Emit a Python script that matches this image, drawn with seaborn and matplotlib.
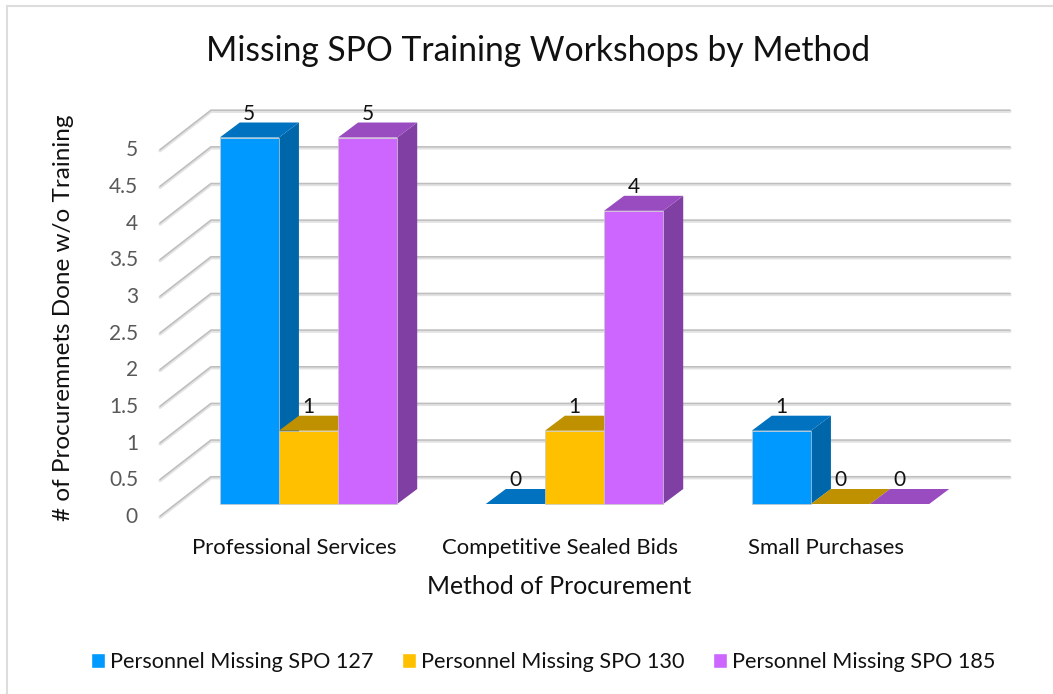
import matplotlib
matplotlib.use("Agg")
import matplotlib.pyplot as plt
from matplotlib.lines import Line2D
from matplotlib.patches import Polygon
from matplotlib.transforms import Affine2D
import pandas as pd
import seaborn as sns

categories = ["Professional Services", "Competitive Sealed Bids", "Small Purchases"]
spo_127 = [5, 0, 1]
spo_130 = [1, 1, 0]
spo_185 = [5, 4, 0]
series_names = ["Personnel Missing SPO 127", "Personnel Missing SPO 130", "Personnel Missing SPO 185"]
front_colors = ["#0099FF", "#FFC000", "#CC66FF"]
top_colors = ["#0072BF", "#BF9000", "#994CBF"]
side_colors = ["#0066AA", "#AA8000", "#7F3FA3"]
y_ticks = [0, 0.5, 1, 1.5, 2, 2.5, 3, 3.5, 4, 4.5, 5]
y_tick_labels = ["0", "0.5", "1", "1.5", "2", "2.5", "3", "3.5", "4", "4.5", "5"]

W, H = 1053, 694
sns.set_theme(style="white")
plt.rcParams["font.family"] = ["Lato", "DejaVu Sans"]
fig = plt.figure(figsize=(W / 100, H / 100), dpi=100, facecolor="white")
AX_L, AX_R, AX_B, AX_T = 175.5, 973.5, 504, 137.5
ax = fig.add_axes([AX_L / W, 1 - AX_B / H, (AX_R - AX_L) / W, (AX_B - AX_T) / H])
ax.patch.set_alpha(0)

df = pd.DataFrame({
    "Method": categories * 3,
    "Count": spo_127 + spo_130 + spo_185,
    "Series": [n for n in series_names for _ in categories],
})
sns.barplot(data=df, x="Method", y="Count", hue="Series", hue_order=series_names,
            order=categories, palette=front_colors, width=0.667, gap=0, saturation=1,
            errorbar=None, ax=ax)
ax.set_xlim(-0.5, 2.5)
ax.set_ylim(0, 5)
for s in ax.spines.values():
    s.set_visible(False)

sx = 3 / (AX_R - AX_L)      # data units per pixel
sy = 5 / (AX_B - AX_T)

# walls and floor grid
wall_x0 = -0.5 + (160 - AX_L) * sx
wall_x1 = -0.5 + (211 - AX_L) * sx
wall_x2 = -0.5 + (1010 - AX_L) * sx
for v in y_ticks:
    yf = v - 12.5 * sy
    yb = v + 27 * sy
    for lw, col, off in [(3.2, "#E2E2E2", -0.8), (1.5, "#BEBEBE", 0.3)]:
        ax.plot([wall_x0, wall_x1, wall_x2], [yf + off * sy, yb + off * sy, yb + off * sy],
                color=col, lw=lw * 0.72, clip_on=False, zorder=1, solid_joinstyle="miter")

# 3D faces derived from each bar
DX, DY = 20 * sx, 15 * sy
for i, cont in enumerate(ax.containers):
    for p in cont.patches:
        x, w, h = p.get_x(), p.get_width(), p.get_height()
        r = x + w
        z = 3 + 3 * i
        ax.add_patch(Polygon([(r, 0), (r + DX, DY), (r + DX, h + DY), (r, h)],
                             closed=True, fc=side_colors[i], ec="none", clip_on=False, zorder=z))
        ax.add_patch(Polygon([(x, h), (x + DX, h + DY), (r + DX, h + DY), (r, h)],
                             closed=True, fc=top_colors[i], ec="none", clip_on=False, zorder=z + 1))
        p.set_zorder(z + 2)
        p.set_clip_on(False)
        p.set_edgecolor("#C8C8C8")
        p.set_linewidth(0.5 if h > 0 else 0)
        ax.annotate(f"{h:g}", (x + w / 2, h), xytext=(0, 24 * 0.72), textcoords="offset points",
                    ha="center", va="center", fontsize=15, color="#111111",
                    annotation_clip=False, zorder=20)

# y ticks: sit on the front-left wall edge
ax.set_yticks(y_ticks)
ax.set_yticklabels(y_tick_labels)
ax.tick_params(axis="y", length=0, pad=(AX_L - 138) * 0.72, labelsize=15, labelcolor="#595959")
for lab in ax.get_yticklabels():
    lab.set_transform(lab.get_transform() + Affine2D().translate(0, -11))
ax.tick_params(axis="x", length=0, pad=34 * 0.72, labelsize=15.9, labelcolor="#111111")
for lab in ax.get_xticklabels():
    lab.set_transform(lab.get_transform() + Affine2D().translate(-14.5, 0))

ax.set_xlabel("Method of Procurement", fontsize=17.8, color="#111111")
ax.set_ylabel("# of Procuremnets Done w/o Training", fontsize=17.5, color="#111111")
ax.xaxis.set_label_coords(559 / W, 1 - 587 / H, transform=fig.transFigure)
ax.yaxis.set_label_coords(63.5 / W, 1 - 318 / H, transform=fig.transFigure)
ax.xaxis.label.set_va("center")
ax.yaxis.label.set_va("center")

fig.text(538 / W, 1 - 51 / H, "Missing SPO Training Workshops by Method",
         ha="center", va="center", fontsize=24.2, color="#111111")

handles, labels = ax.get_legend_handles_labels()
ax.legend(handles, labels, ncols=3, loc="center", bbox_to_anchor=(543 / W, 1 - 662 / H),
          bbox_transform=fig.transFigure, frameon=False, fontsize=15.6,
          handlelength=0.645, handleheight=0.645, handletextpad=0.23, columnspacing=1.33,
          labelcolor="#111111", borderpad=0)

# chart frame (top and left edges only)
fig.add_artist(Line2D([6.5 / W, 6.5 / W, 1], [0, 1 - 5.5 / H, 1 - 5.5 / H], transform=fig.transFigure,
                      color="#DDDDDD", lw=1.5, solid_joinstyle="miter"))
fig.savefig("out.png", dpi=100)
